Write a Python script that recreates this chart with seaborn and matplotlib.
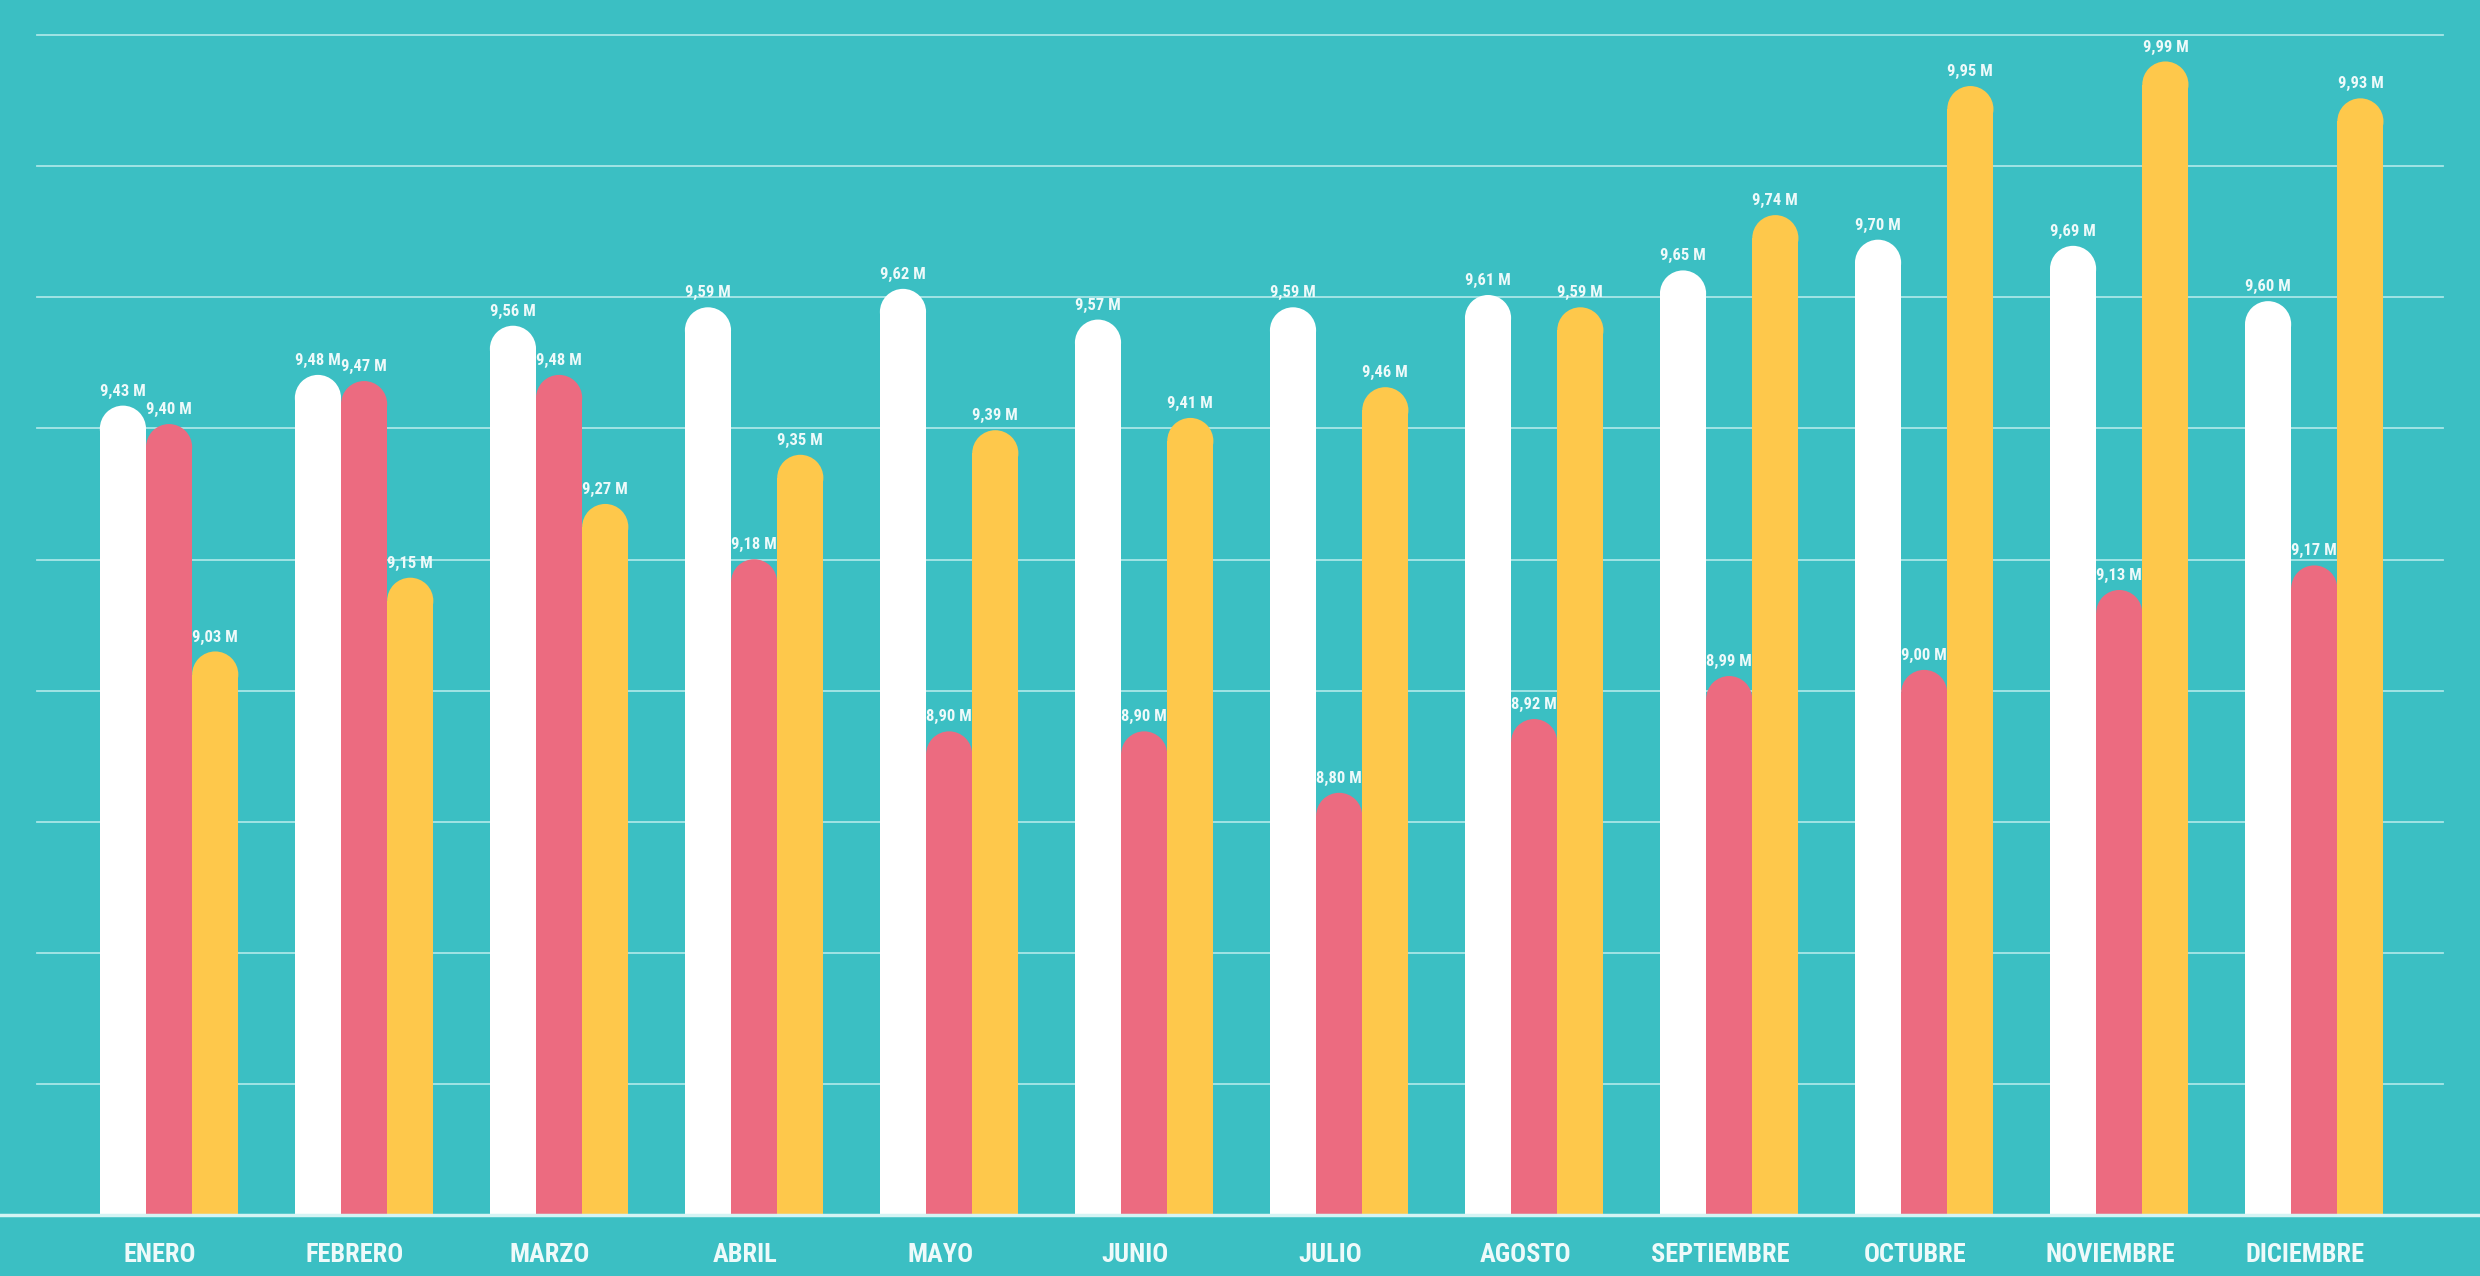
import numpy as np
import pandas as pd
import seaborn as sns
import matplotlib.pyplot as plt
from matplotlib import font_manager
from matplotlib.font_manager import FontProperties
from matplotlib.patches import Rectangle, Ellipse
from matplotlib.transforms import ScaledTranslation

# valores (millones)
meses = ['ENERO', 'FEBRERO', 'MARZO', 'ABRIL', 'MAYO', 'JUNIO', 'JULIO',
         'AGOSTO', 'SEPTIEMBRE', 'OCTUBRE', 'NOVIEMBRE', 'DICIEMBRE']
serie_blanca = [9.43, 9.48, 9.56, 9.59, 9.62, 9.57, 9.59, 9.61, 9.65, 9.70, 9.69, 9.60]
serie_rosa = [9.40, 9.47, 9.48, 9.18, 8.90, 8.90, 8.80, 8.92, 8.99, 9.00, 9.13, 9.17]
serie_amarilla = [9.03, 9.15, 9.27, 9.35, 9.39, 9.41, 9.46, 9.59, 9.74, 9.95, 9.99, 9.93]
series = ['serie_1', 'serie_2', 'serie_3']

teal = '#3bbfc3'
colores = ['#ffffff', '#ec6b80', '#fec84b']
texto = '#eefafa'

# look for a condensed face, otherwise plain Liberation Sans
fuente = None
for cand in ['Roboto Condensed', 'Liberation Sans Narrow', 'Open Sans Condensed',
             'Noto Sans Condensed', 'DejaVu Sans Condensed']:
    hits = [f for f in font_manager.fontManager.ttflist
            if f.name == cand and f.weight in (600, 700, 'bold')]
    if hits:
        fuente = hits[0].fname
        break
if fuente is None:
    hits = [f for f in font_manager.fontManager.ttflist
            if 'condensed' in str(f.stretch) and f.weight in (600, 700, 'bold')
            and f.name in ('Noto Sans', 'DejaVu Sans', 'Open Sans', 'Roboto')]
    if hits:
        fuente = hits[0].fname
if fuente is not None:
    fp_mes = FontProperties(fname=fuente, size=19)
    fp_val = FontProperties(fname=fuente, size=12)
else:
    fp_mes = FontProperties(family='Liberation Sans', weight='bold', size=16)
    fp_val = FontProperties(family='Liberation Sans', weight='bold', size=11)

df = pd.DataFrame({
    'mes': meses * 3,
    'valor': serie_blanca + serie_rosa + serie_amarilla,
    'serie': [s for s in series for _ in meses],
})

fig = plt.figure(figsize=(24.8, 12.76), dpi=100)
fig.patch.set_facecolor(teal)
ax = fig.add_axes([0, 0.0478, 1, 0.9522])
ax.set_facecolor(teal)

sns.barplot(data=df, x='mes', y='valor', hue='serie', palette=colores,
            width=0.71, saturation=1, legend=False, errorbar=None,
            edgecolor='none', ax=ax)

ymin, ymax = 8.113, 10.09
ax.set_ylim(ymin, ymax)
ax.set_xlim(-0.867, 11.85)

# pixels per data unit, used to make the round caps circular
px = fig.get_figwidth() * fig.dpi / (11.85 + 0.867)
py = fig.get_figheight() * fig.dpi * 0.9522 / (ymax - ymin)

for p in list(ax.patches):
    x, w, h = p.get_x(), p.get_width(), p.get_height()
    fc = p.get_facecolor()
    p.remove()
    ry = (w / 2) * px / py
    ax.add_patch(Rectangle((x, 0), w, h - ry, fc=fc, ec='none', zorder=3))
    ax.add_patch(Ellipse((x + w / 2, h - ry), w, 2 * ry, fc=fc, ec='none', zorder=3))
    lbl = f'{h:.2f}'.replace('.', ',') + ' M'
    ax.annotate(lbl, (x + w / 2, h), xytext=(0, 5), textcoords='offset points',
                ha='center', va='bottom', color=texto, fontproperties=fp_val, zorder=5)

# gridlines
step = 0.2133
for k in range(1, 10):
    ax.axhline(ymin + k * step, xmin=0.015, xmax=0.985, color='#a9e6e7', lw=1.3, zorder=1)
ax.axhline(ymin, color='#d4f4f4', lw=2.5, zorder=4, clip_on=False)

for s in ax.spines.values():
    s.set_visible(False)
ax.set_yticks([])
ax.set_xlabel('')
ax.set_ylabel('')
ax.tick_params(axis='x', length=0, pad=20, labelcolor=texto)
shift = ScaledTranslation(-9 / 100, 0, fig.dpi_scale_trans)
for t in ax.get_xticklabels():
    t.set_fontproperties(fp_mes)
    t.set_transform(t.get_transform() + shift)

fig.savefig('out.png', dpi=100, facecolor=teal)
